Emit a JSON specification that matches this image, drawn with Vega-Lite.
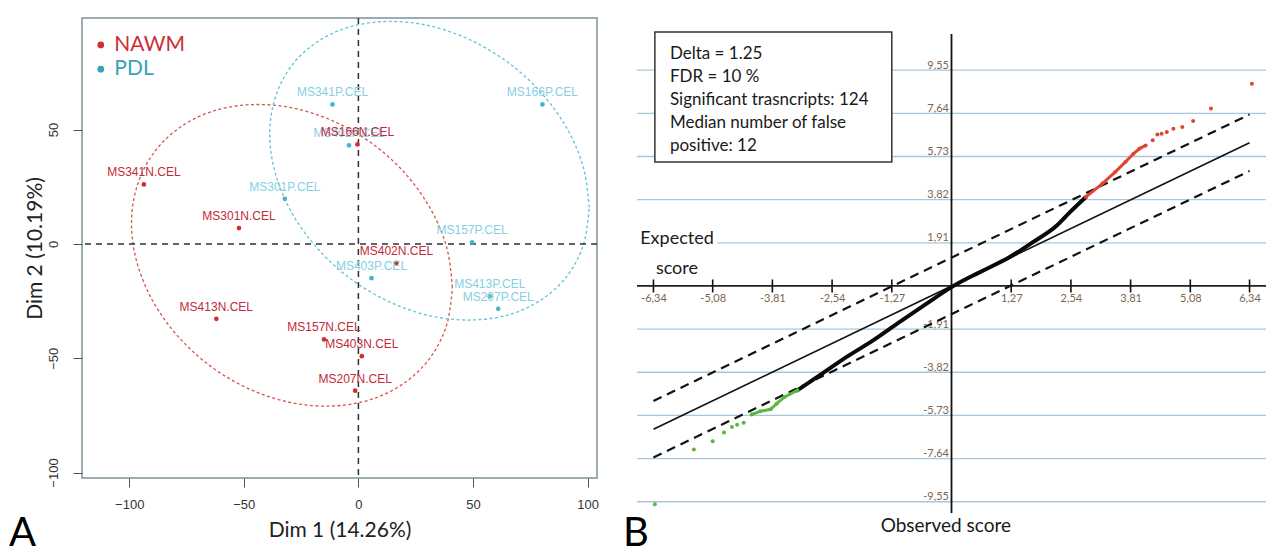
{
  "$schema": "https://vega.github.io/schema/vega-lite/v6.json",
  "background": "white",
  "padding": {"left": 8, "top": 16, "right": 0, "bottom": 0},
  "spacing": 40,
  "bounds": "flush",
  "config": {"view": {"stroke": null}, "axis": {"grid": false}},
  "datasets": {
    "one": [{}],
    "legend": [
      {"group": "NAWM", "dim1": -112.4, "dim2": 87.0, "lx": -106.5},
      {"group": "PDL", "dim1": -112.4, "dim2": 76.4, "lx": -106.5}
    ],
    "pca": [
      {"sample": "MS341P.CEL", "group": "PDL", "dim1": -11.3, "dim2": 61.0},
      {"sample": "MS166P.CEL", "group": "PDL", "dim1": 80.3, "dim2": 61.0},
      {"sample": "MS402P.CEL", "group": "PDL", "dim1": -4.1, "dim2": 43.1},
      {"sample": "MS301P.CEL", "group": "PDL", "dim1": -32.1, "dim2": 19.7},
      {"sample": "MS157P.CEL", "group": "PDL", "dim1": 49.6, "dim2": 0.7},
      {"sample": "MS403P.CEL", "group": "PDL", "dim1": 5.7, "dim2": -15.0},
      {"sample": "MS413P.CEL", "group": "PDL", "dim1": 57.3, "dim2": -23.0},
      {"sample": "MS297P.CEL", "group": "PDL", "dim1": 61.0, "dim2": -28.4},
      {"sample": "MS341N.CEL", "group": "NAWM", "dim1": -93.6, "dim2": 26.0},
      {"sample": "MS301N.CEL", "group": "NAWM", "dim1": -52.1, "dim2": 6.9},
      {"sample": "MS166N.CEL", "group": "NAWM", "dim1": -0.4, "dim2": 43.5},
      {"sample": "MS402N.CEL", "group": "NAWM", "dim1": 16.6, "dim2": -8.3},
      {"sample": "MS413N.CEL", "group": "NAWM", "dim1": -62.0, "dim2": -32.8},
      {"sample": "MS157N.CEL", "group": "NAWM", "dim1": -15.0, "dim2": -41.8},
      {"sample": "MS403N.CEL", "group": "NAWM", "dim1": 1.5, "dim2": -49.1},
      {"sample": "MS207N.CEL", "group": "NAWM", "dim1": -1.4, "dim2": -64.2}
    ],
    "ellipse": [
      {"group": "NAWM", "i": 0, "dim1": 41, "dim2": -19},
      {"group": "NAWM", "i": 1, "dim1": 38.6, "dim2": -1.8},
      {"group": "NAWM", "i": 2, "dim1": 31.6, "dim2": 15.1},
      {"group": "NAWM", "i": 3, "dim1": 20.5, "dim2": 30.7},
      {"group": "NAWM", "i": 4, "dim1": 6, "dim2": 43.9},
      {"group": "NAWM", "i": 5, "dim1": -10.9, "dim2": 53.7},
      {"group": "NAWM", "i": 6, "dim1": -29, "dim2": 59.5},
      {"group": "NAWM", "i": 7, "dim1": -47.1, "dim2": 60.9},
      {"group": "NAWM", "i": 8, "dim1": -64, "dim2": 57.9},
      {"group": "NAWM", "i": 9, "dim1": -78.5, "dim2": 50.5},
      {"group": "NAWM", "i": 10, "dim1": -89.6, "dim2": 39.4},
      {"group": "NAWM", "i": 11, "dim1": -96.6, "dim2": 25.2},
      {"group": "NAWM", "i": 12, "dim1": -99, "dim2": 9},
      {"group": "NAWM", "i": 13, "dim1": -96.6, "dim2": -8.2},
      {"group": "NAWM", "i": 14, "dim1": -89.6, "dim2": -25.2},
      {"group": "NAWM", "i": 15, "dim1": -78.5, "dim2": -40.7},
      {"group": "NAWM", "i": 16, "dim1": -64, "dim2": -53.9},
      {"group": "NAWM", "i": 17, "dim1": -47.1, "dim2": -63.7},
      {"group": "NAWM", "i": 18, "dim1": -29, "dim2": -69.5},
      {"group": "NAWM", "i": 19, "dim1": -10.9, "dim2": -70.9},
      {"group": "NAWM", "i": 20, "dim1": 6, "dim2": -67.9},
      {"group": "NAWM", "i": 21, "dim1": 20.5, "dim2": -60.5},
      {"group": "NAWM", "i": 22, "dim1": 31.6, "dim2": -49.4},
      {"group": "NAWM", "i": 23, "dim1": 38.6, "dim2": -35.2},
      {"group": "NAWM", "i": 24, "dim1": 41, "dim2": -19},
      {"group": "PDL", "i": 0, "dim1": 100.7, "dim2": 16},
      {"group": "PDL", "i": 1, "dim1": 98.3, "dim2": 32.9},
      {"group": "PDL", "i": 2, "dim1": 91.4, "dim2": 49.8},
      {"group": "PDL", "i": 3, "dim1": 80.3, "dim2": 65.5},
      {"group": "PDL", "i": 4, "dim1": 65.9, "dim2": 78.9},
      {"group": "PDL", "i": 5, "dim1": 49, "dim2": 89.1},
      {"group": "PDL", "i": 6, "dim1": 31, "dim2": 95.4},
      {"group": "PDL", "i": 7, "dim1": 13, "dim2": 97.3},
      {"group": "PDL", "i": 8, "dim1": -3.9, "dim2": 94.9},
      {"group": "PDL", "i": 9, "dim1": -18.3, "dim2": 88.1},
      {"group": "PDL", "i": 10, "dim1": -29.4, "dim2": 77.6},
      {"group": "PDL", "i": 11, "dim1": -36.3, "dim2": 63.9},
      {"group": "PDL", "i": 12, "dim1": -38.7, "dim2": 48},
      {"group": "PDL", "i": 13, "dim1": -36.3, "dim2": 31.1},
      {"group": "PDL", "i": 14, "dim1": -29.4, "dim2": 14.2},
      {"group": "PDL", "i": 15, "dim1": -18.3, "dim2": -1.5},
      {"group": "PDL", "i": 16, "dim1": -3.9, "dim2": -14.9},
      {"group": "PDL", "i": 17, "dim1": 13, "dim2": -25.1},
      {"group": "PDL", "i": 18, "dim1": 31, "dim2": -31.4},
      {"group": "PDL", "i": 19, "dim1": 49, "dim2": -33.3},
      {"group": "PDL", "i": 20, "dim1": 65.9, "dim2": -30.9},
      {"group": "PDL", "i": 21, "dim1": 80.3, "dim2": -24.1},
      {"group": "PDL", "i": 22, "dim1": 91.4, "dim2": -13.6},
      {"group": "PDL", "i": 23, "dim1": 98.3, "dim2": 0.1},
      {"group": "PDL", "i": 24, "dim1": 100.7, "dim2": 16}
    ],
    "grid": [{"v": 9.55}, {"v": 7.64}, {"v": 5.73}, {"v": 3.82}, {"v": 1.91}, {"v": -1.91}, {"v": -3.82}, {"v": -5.73}, {"v": -7.64}, {"v": -9.55}],
    "xticks": [{"v": -6.34}, {"v": -5.08}, {"v": -3.81}, {"v": -2.54}, {"v": -1.27}, {"v": 1.27}, {"v": 2.54}, {"v": 3.81}, {"v": 5.08}, {"v": 6.34}],
    "refl": [
      {"line": "identity", "kind": "solid", "expected": -6.34, "observed": -6.34},
      {"line": "identity", "kind": "solid", "expected": 6.34, "observed": 6.34},
      {"line": "upper", "kind": "dashed", "expected": -6.34, "observed": -5.09},
      {"line": "upper", "kind": "dashed", "expected": 6.34, "observed": 7.59},
      {"line": "lower", "kind": "dashed", "expected": -6.34, "observed": -7.59},
      {"line": "lower", "kind": "dashed", "expected": 6.34, "observed": 5.09}
    ],
    "curve": [
      {"expected": -3.28, "observed": -4.62},
      {"expected": -2.80, "observed": -3.95},
      {"expected": -2.23, "observed": -3.14},
      {"expected": -1.66, "observed": -2.40},
      {"expected": -1.10, "observed": -1.59},
      {"expected": -0.53, "observed": -0.78},
      {"expected": 0.0, "observed": -0.05},
      {"expected": 0.61, "observed": 0.62},
      {"expected": 1.24, "observed": 1.28},
      {"expected": 1.74, "observed": 1.95},
      {"expected": 2.24, "observed": 2.68},
      {"expected": 2.52, "observed": 3.27},
      {"expected": 2.86, "observed": 3.94}
    ],
    "sig": [
      {"call": "up", "expected": 2.86, "observed": 3.94},
      {"call": "up", "expected": 3.21, "observed": 4.53},
      {"call": "up", "expected": 3.48, "observed": 5.04},
      {"call": "up", "expected": 3.70, "observed": 5.49},
      {"call": "up", "expected": 3.87, "observed": 5.85},
      {"call": "up", "expected": 4.00, "observed": 6.08},
      {"call": "up", "expected": 4.13, "observed": 6.22},
      {"call": "up", "expected": 4.28, "observed": 6.45},
      {"call": "up", "expected": 4.38, "observed": 6.70},
      {"call": "up", "expected": 4.47, "observed": 6.74},
      {"call": "up", "expected": 4.58, "observed": 6.81},
      {"call": "up", "expected": 4.72, "observed": 6.96},
      {"call": "up", "expected": 4.91, "observed": 7.04},
      {"call": "up", "expected": 5.14, "observed": 7.30},
      {"call": "up", "expected": 5.52, "observed": 7.85},
      {"call": "up", "expected": 6.39, "observed": 8.95},
      {"call": "down", "expected": -3.28, "observed": -4.62},
      {"call": "down", "expected": -3.55, "observed": -4.91},
      {"call": "down", "expected": -3.72, "observed": -5.21},
      {"call": "down", "expected": -3.85, "observed": -5.46},
      {"call": "down", "expected": -4.07, "observed": -5.55},
      {"call": "down", "expected": -4.25, "observed": -5.69},
      {"call": "down", "expected": -4.42, "observed": -6.05},
      {"call": "down", "expected": -4.56, "observed": -6.14},
      {"call": "down", "expected": -4.67, "observed": -6.24},
      {"call": "down", "expected": -4.84, "observed": -6.49},
      {"call": "down", "expected": -5.08, "observed": -6.87},
      {"call": "down", "expected": -5.48, "observed": -7.24},
      {"call": "down", "expected": -6.31, "observed": -9.66}
    ]
  },
  "hconcat": [
    {
      "width": 515,
      "height": 460,
      "view": {"stroke": "#7d9199", "strokeWidth": 1.5},
      "layer": [
        {
          "data": {"name": "ellipse"},
          "mark": {"type": "line", "interpolate": "cardinal", "strokeDash": [3, 2.5], "strokeWidth": 1.3},
          "encoding": {
            "x": {"field": "dim1", "type": "quantitative",
                  "scale": {"domain": [-120.6, 104.1], "nice": false, "zero": false},
                  "axis": {"values": [-100, -50, 0, 50, 100], "grid": false, "domain": false, "tickSize": 9, "tickColor": "#555", "labelFont": "Liberation Sans", "labelFontSize": 13, "labelColor": "#333", "labelPadding": 11, "labelFlush": false, "title": "Dim 1 (14.26%)", "titleFont": "Lato", "titleFontSize": 21, "titleFontWeight": "normal", "titleColor": "#222", "titlePadding": 8}},
            "y": {"field": "dim2", "type": "quantitative",
                  "scale": {"domain": [-102.4, 98.8], "nice": false, "zero": false},
                  "axis": {"values": [-100, -50, 0, 50], "grid": false, "domain": false, "tickSize": 9, "tickColor": "#555", "labelFont": "Liberation Sans", "labelFontSize": 13, "labelColor": "#333", "labelPadding": 13, "labelAngle": -90, "labelFlush": false, "title": "Dim 2 (10.19%)", "titleFont": "Lato", "titleFontSize": 21, "titleFontWeight": "normal", "titleColor": "#222", "titlePadding": 2}},
            "detail": {"field": "group"},
            "order": {"field": "i", "type": "quantitative"},
            "color": {"condition": {"test": "datum.group === 'NAWM'", "value": "#d9534f"}, "value": "#5fc2da"}
          }
        },
        {
          "data": {"name": "one"},
          "mark": {"type": "rule", "strokeDash": [6, 5], "strokeWidth": 1.5, "color": "#2b3338"},
          "encoding": {"x": {"datum": 0, "type": "quantitative"}}
        },
        {
          "data": {"name": "one"},
          "mark": {"type": "rule", "strokeDash": [6, 5], "strokeWidth": 1.5, "color": "#2b3338"},
          "encoding": {"y": {"datum": 0, "type": "quantitative"}}
        },
        {
          "data": {"name": "pca"},
          "mark": {"type": "circle", "size": 22, "opacity": 1},
          "encoding": {
            "x": {"field": "dim1", "type": "quantitative"},
            "y": {"field": "dim2", "type": "quantitative"},
            "color": {"condition": {"test": "datum.group === 'NAWM'", "value": "#d12e2e"}, "value": "#49b3c8"}
          }
        },
        {
          "data": {"name": "pca"},
          "mark": {"type": "text", "dy": -8, "baseline": "alphabetic", "fontSize": 12, "font": "Liberation Sans"},
          "encoding": {
            "x": {"field": "dim1", "type": "quantitative"},
            "y": {"field": "dim2", "type": "quantitative"},
            "text": {"field": "sample"},
            "color": {"condition": {"test": "datum.group === 'NAWM'", "value": "#c22a38"}, "value": "#86cfe3"}
          }
        },
        {
          "data": {"name": "legend"},
          "mark": {"type": "circle", "size": 45, "opacity": 1},
          "encoding": {
            "x": {"field": "dim1", "type": "quantitative"},
            "y": {"field": "dim2", "type": "quantitative"},
            "color": {"condition": {"test": "datum.group === 'NAWM'", "value": "#d12e2e"}, "value": "#3aa2b5"}
          }
        },
        {
          "data": {"name": "legend"},
          "mark": {"type": "text", "align": "left", "baseline": "middle", "fontSize": 21, "font": "Lato"},
          "encoding": {
            "x": {"field": "lx", "type": "quantitative"},
            "y": {"field": "dim2", "type": "quantitative"},
            "text": {"field": "group"},
            "color": {"condition": {"test": "datum.group === 'NAWM'", "value": "#cf2d35"}, "value": "#3aa2b5"}
          }
        },
        {
          "data": {"name": "one"},
          "mark": {"type": "text", "text": "A", "fontSize": 40, "font": "Lato", "align": "left", "baseline": "alphabetic", "color": "#000"},
          "encoding": {"x": {"datum": -152.5, "type": "quantitative"}, "y": {"datum": -132.3, "type": "quantitative"}}
        }
      ]
    },
    {
      "width": 629,
      "height": 500,
      "view": {"stroke": null},
      "layer": [
        {
          "data": {"name": "grid"},
          "mark": {"type": "rule", "color": "#a8c7db", "strokeWidth": 1.3},
          "encoding": {
            "y": {"field": "v", "type": "quantitative",
                  "scale": {"domain": [-10.27, 11.86], "nice": false, "zero": false},
                  "axis": {"values": [9.55, 7.64, 5.73, 3.82, 1.91, -1.91, -3.82, -5.73, -7.64, -9.55], "orient": "left", "offset": -314.5, "domain": false, "ticks": false, "grid": false, "labelAlign": "right", "labelBaseline": "alphabetic", "labelOffset": -2, "labelPadding": 3, "labelFont": "Lato", "labelFontSize": 11, "labelColor": "#7d6550", "labelExpr": "replace(toString(datum.value), '.', ',')", "title": null}}
          }
        },
        {
          "data": {"name": "one"},
          "mark": {"type": "rect", "fill": "white"},
          "encoding": {"x": {"datum": -6.72, "type": "quantitative"}, "x2": {"datum": -4.98}, "y": {"datum": 1.78, "type": "quantitative"}, "y2": {"datum": 2.04}}
        },
        {
          "data": {"name": "one"},
          "mark": {"type": "rule", "color": "#2a1f18", "strokeWidth": 1.8},
          "encoding": {"y": {"datum": 0, "type": "quantitative"}}
        },
        {
          "data": {"name": "one"},
          "mark": {"type": "rule", "color": "#111", "strokeWidth": 1.8},
          "encoding": {"x": {"datum": 0, "type": "quantitative"}, "y": {"datum": -10.05, "type": "quantitative"}, "y2": {"datum": 11.15}}
        },
        {
          "data": {"name": "xticks"},
          "mark": {"type": "tick", "orient": "vertical", "size": 13, "thickness": 1.6, "color": "#111", "opacity": 1},
          "encoding": {"x": {"field": "v", "type": "quantitative"}, "y": {"datum": 0, "type": "quantitative"}}
        },
        {
          "data": {"name": "refl"},
          "transform": [{"filter": "datum.kind === 'solid'"}],
          "mark": {"type": "line", "strokeWidth": 1.6, "color": "#111"},
          "encoding": {
            "x": {"field": "expected", "type": "quantitative",
                  "scale": {"domain": [-6.69, 6.69], "nice": false, "zero": false},
                  "axis": {"values": [-6.34, -5.08, -3.81, -2.54, -1.27, 1.27, 2.54, 3.81, 5.08, 6.34], "orient": "bottom", "offset": -232, "domain": false, "ticks": false, "grid": false, "labelFont": "Lato", "labelFontSize": 11, "labelColor": "#7d6550", "labelPadding": 6, "labelFlush": false, "labelExpr": "replace(toString(datum.value), '.', ',')", "title": null}},
            "y": {"field": "observed", "type": "quantitative"},
            "detail": {"field": "line"}
          }
        },
        {
          "data": {"name": "refl"},
          "transform": [{"filter": "datum.kind === 'dashed'"}],
          "mark": {"type": "line", "strokeWidth": 2.2, "strokeDash": [9, 6], "color": "#111"},
          "encoding": {
            "x": {"field": "expected", "type": "quantitative"},
            "y": {"field": "observed", "type": "quantitative"},
            "detail": {"field": "line"}
          }
        },
        {
          "data": {"name": "curve"},
          "mark": {"type": "line", "strokeWidth": 4, "color": "#0a0a0a", "strokeCap": "round", "interpolate": "monotone"},
          "encoding": {
            "x": {"field": "expected", "type": "quantitative"},
            "y": {"field": "observed", "type": "quantitative"}
          }
        },
        {
          "data": {"name": "sig"},
          "transform": [{"filter": "(datum.call === 'up' && datum.expected <= 4.13) || (datum.call === 'down' && datum.expected >= -4.25)"}],
          "mark": {"type": "line", "strokeWidth": 3},
          "encoding": {
            "x": {"field": "expected", "type": "quantitative"},
            "y": {"field": "observed", "type": "quantitative"},
            "detail": {"field": "call"},
            "color": {"condition": {"test": "datum.call === 'up'", "value": "#e2452f"}, "value": "#5cb83c"}
          }
        },
        {
          "data": {"name": "sig"},
          "mark": {"type": "circle", "size": 16, "opacity": 1},
          "encoding": {
            "x": {"field": "expected", "type": "quantitative"},
            "y": {"field": "observed", "type": "quantitative"},
            "color": {"condition": {"test": "datum.call === 'up'", "value": "#e2452f"}, "value": "#5cb83c"}
          }
        },
        {
          "data": {"name": "one"},
          "mark": {"type": "rect", "fill": "white", "stroke": "#333", "strokeWidth": 1.5},
          "encoding": {"x": {"datum": -6.31, "type": "quantitative"}, "x2": {"datum": -1.27}, "y": {"datum": 11.24, "type": "quantitative"}, "y2": {"datum": 5.49}}
        },
        {
          "data": {"name": "one"},
          "mark": {"type": "text", "align": "left", "baseline": "alphabetic", "fontSize": 17, "font": "Lato", "lineHeight": 23, "color": "#1a1a1a",
                   "text": ["Delta = 1.25", "FDR = 10 %", "Significant trasncripts: 124", "Median number of false", "positive: 12"]},
          "encoding": {"x": {"datum": -5.99, "type": "quantitative"}, "y": {"datum": 10.06, "type": "quantitative"}}
        },
        {
          "data": {"name": "one"},
          "mark": {"type": "text", "align": "center", "baseline": "alphabetic", "fontSize": 18, "font": "Lato", "lineHeight": 30, "color": "#1a1a1a", "text": ["Expected", "score"]},
          "encoding": {"x": {"datum": -5.84, "type": "quantitative"}, "y": {"datum": 1.86, "type": "quantitative"}}
        },
        {
          "data": {"name": "one"},
          "mark": {"type": "text", "align": "center", "baseline": "alphabetic", "fontSize": 19, "font": "Lato", "color": "#1a1a1a", "text": "Observed score"},
          "encoding": {"x": {"datum": -0.12, "type": "quantitative"}, "y": {"datum": -10.88, "type": "quantitative"}}
        },
        {
          "data": {"name": "one"},
          "mark": {"type": "text", "align": "left", "baseline": "alphabetic", "fontSize": 40, "font": "Lato", "color": "#000", "text": "B"},
          "encoding": {"x": {"datum": -6.99, "type": "quantitative"}, "y": {"datum": -11.51, "type": "quantitative"}}
        }
      ]
    }
  ]
}
